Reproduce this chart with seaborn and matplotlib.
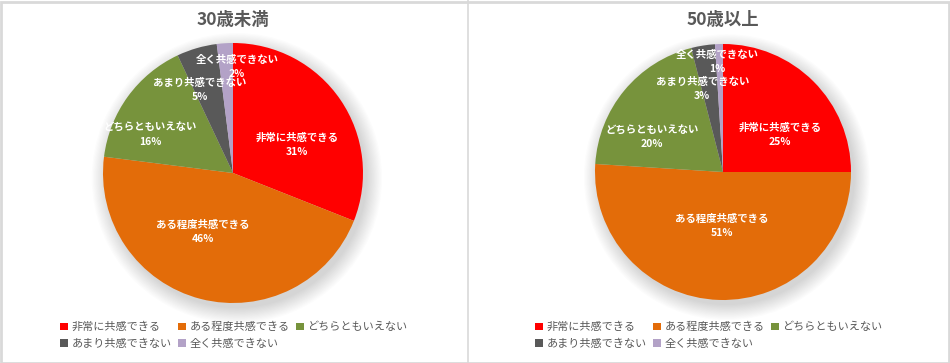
import numpy as np
import matplotlib
matplotlib.use('Agg')
import matplotlib.pyplot as plt
import seaborn as sns
from matplotlib.patches import Circle, Rectangle
from matplotlib.lines import Line2D

sns.set_theme(style='white')
plt.rcParams['font.family'] = ['Noto Sans CJK JP', 'DejaVu Sans']

# Data
categories = ['非常に共感できる', 'ある程度共感できる', 'どちらともいえない', 'あまり共感できない', '全く共感できない']
titles = ['30歳未満', '50歳以上']
under30 = [31, 46, 16, 5, 2]
over50 = [25, 51, 20, 3, 1]
colors = sns.color_palette(['#FF0000', '#E36C09', '#77933C', '#595959', '#B3A2C7'])

# label placement (radius fraction, angle shift in degrees) per slice
label_r = [[0.54, 0.51, 0.70, 0.69, 0.82], [0.53, 0.42, 0.62, 0.67, 0.86]]
label_shift = [[-10.6, -12.6, 11.4, 5.5, -5.8], [-12, 0.8, 13.6, 5, 1.2]]

# legend is filled column by column, so reorder to read row by row
legend_order = [0, 3, 1, 4, 2]

W, H = 950, 363
fig = plt.figure(figsize=(W / 100, H / 100), dpi=100)
fig.patch.set_facecolor('white')

# pie centers / radius in pixels
pies = [(233, 173, 130), (723, 172, 128)]
legend_cx = [234, 709]
text_gray = '#595959'

for i, values in enumerate([under30, over50]):
    cx, cy, r = pies[i]
    ax = fig.add_axes([(cx - r) / W, (H - cy - r) / H, 2 * r / W, 2 * r / H])

    # soft shadow
    for k in range(14):
        ax.add_patch(Circle((0.03, -0.04), 1.0 + 0.009 * k, color='black',
                            alpha=0.012, lw=0, zorder=0, clip_on=False))

    wedges, _ = ax.pie(values, colors=colors, startangle=90, counterclock=False,
                       radius=1.0, wedgeprops=dict(linewidth=0))
    for w in wedges:
        w.set_zorder(2)
    ax.set_xlim(-1, 1)
    ax.set_ylim(-1, 1)
    ax.set_aspect('equal')
    ax.axis('off')

    for j, w in enumerate(wedges):
        ang = np.deg2rad((w.theta1 + w.theta2) / 2 + label_shift[i][j])
        rr = label_r[i][j]
        ax.text(rr * np.cos(ang), rr * np.sin(ang), f'{categories[j]}\n{values[j]}%',
                ha='center', va='center', color='white', fontsize=7.5, fontweight='bold',
                linespacing=1.5, zorder=5)

    fig.text(cx / W, 1 - 20 / H, titles[i], ha='center', va='center',
             fontsize=12.5, fontweight='bold', color=text_gray)

    fig.legend([wedges[k] for k in legend_order], [categories[k] for k in legend_order],
               loc='center', bbox_to_anchor=(legend_cx[i] / W, 1 - 335.5 / H),
               ncol=3, frameon=False, fontsize=8, labelcolor=text_gray,
               handlelength=0.7, handleheight=0.7, handletextpad=0.3,
               columnspacing=0.6, labelspacing=0.6, borderpad=0)

# frame borders and divider
border = '#D9D9D9'
fig.add_artist(Rectangle((0.5 / W, 0.5 / H), (W - 2) / W, (H - 2) / H, transform=fig.transFigure,
                         fill=False, edgecolor=border, linewidth=2))
fig.add_artist(Line2D([468 / W, 468 / W], [0, 1], transform=fig.transFigure,
                      color=border, linewidth=1.2))

fig.savefig('out.png', dpi=100, facecolor='white')
